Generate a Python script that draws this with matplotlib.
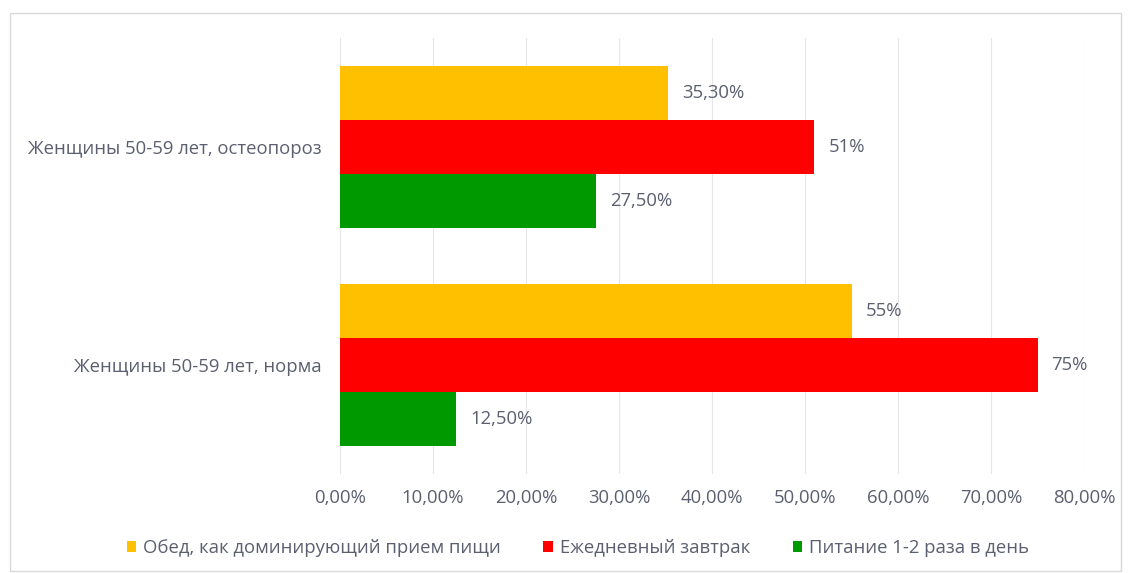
import matplotlib
matplotlib.use("Agg")
import matplotlib.pyplot as plt
from matplotlib.patches import Rectangle, Patch
import numpy as np

categories = ["Женщины 50-59 лет, норма", "Женщины 50-59 лет, остеопороз"]
series_names = ["Обед, как доминирующий прием пищи", "Ежедневный завтрак", "Питание 1-2 раза в день"]
lunch = [55.0, 35.3]
breakfast = [75.0, 51.0]
meals12 = [12.5, 27.5]
lunch_labels = ["55%", "35,30%"]
breakfast_labels = ["75%", "51%"]
meals12_labels = ["12,50%", "27,50%"]
xticks = [0, 10, 20, 30, 40, 50, 60, 70, 80]
xtick_labels = ["0,00%", "10,00%", "20,00%", "30,00%", "40,00%", "50,00%", "60,00%", "70,00%", "80,00%"]

colors = ["#FFC000", "#FF0000", "#009A00"]
text_color = "#5b5f70"
fs = 13.3
plt.rcParams['font.family'] = ['Open Sans', 'DejaVu Sans']

fig = plt.figure(figsize=(11.31, 5.73), dpi=100)
fig.patches.append(Rectangle((10/1131, 2/573), 1111/1131, 558/573, transform=fig.transFigure,
                             fill=False, edgecolor="#d9d9d9", linewidth=1))
ax = fig.add_axes([340/1131, (573-474)/573, 744/1131, 436/573])

y = np.arange(len(categories)) + 0.5
h = 0.248
series = [(lunch, lunch_labels, +h), (breakfast, breakfast_labels, 0.0), (meals12, meals12_labels, -h)]
for (vals, labs, off), c in zip(series, colors):
    bars = ax.barh(y + off, vals, height=h, color=c, zorder=3)
    for b, lab in zip(bars, labs):
        ax.text(b.get_width() + 1.5, b.get_y() + b.get_height()/2, lab, va="center", ha="left",
                fontsize=fs, color=text_color)

ax.set_xlim(0, 80)
ax.set_ylim(0, 2)
ax.set_xticks(xticks)
ax.set_xticklabels(xtick_labels, fontsize=fs, color=text_color)
ax.set_yticks(y)
ax.set_yticklabels(categories, fontsize=fs, color=text_color)
ax.tick_params(axis='x', length=0, pad=11)
ax.tick_params(axis='y', length=0, pad=13)
ax.grid(axis='x', color="#e6e6e6", linewidth=0.8, zorder=0)
for s in ax.spines.values():
    s.set_visible(False)

handles = [Patch(facecolor=c, label=n) for c, n in zip(colors, series_names)]
fig.legend(handles=handles, loc="center", bbox_to_anchor=(0.511, (573-548)/573), ncol=3,
           frameon=False, fontsize=fs, handlelength=0.5, handleheight=0.5,
           handletextpad=0.4, columnspacing=2.3, labelcolor=text_color)

fig.savefig("out.png", dpi=100)
